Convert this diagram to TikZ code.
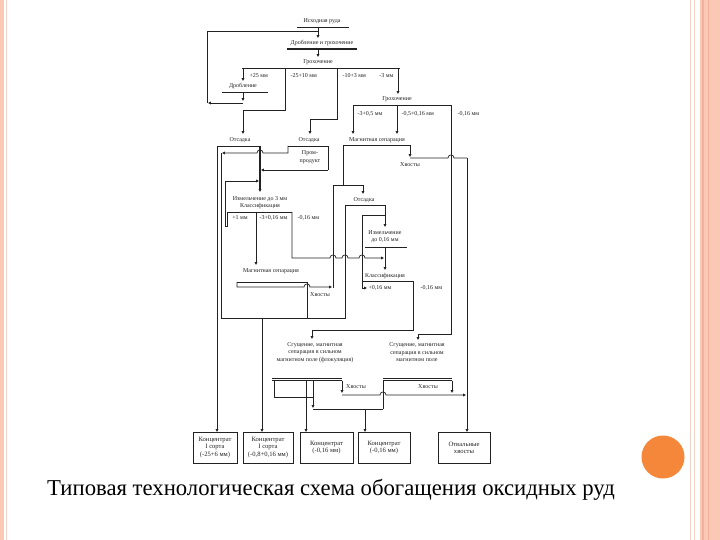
\documentclass[tikz,border=0pt]{standalone}
\usepackage{fontspec}
\setmainfont{Liberation Serif}
\usetikzlibrary{arrows.meta}
\definecolor{salmon}{HTML}{FBC8B6}
\definecolor{salmonD}{HTML}{F2B39E}
\definecolor{salmonL}{HTML}{F4D4C6}
\definecolor{orng}{HTML}{F5873A}
\definecolor{ink}{HTML}{222222}
\tikzset{
  lbl/.style={font=\fontsize{6}{7.5}\selectfont, inner sep=0.3pt, text=ink, align=center},
  ln/.style={draw=ink, line width=0.7pt},
  arr/.style={ln, -{Triangle[length=2.8pt,width=2.6pt]}},
  bar/.style={draw=ink, line width=1.4pt},
  outbox/.style={draw=ink, line width=0.7pt, minimum height=31pt, inner sep=0pt, text=ink,
    font=\fontsize{6.6}{7.3}\selectfont, align=center}
}
\begin{document}
\begin{tikzpicture}[x=1pt,y=-1pt]
\useasboundingbox (0,0) rectangle (720,540);
\fill[white] (0,0) rectangle (720,540);
% slide decoration
\fill[salmon] (700,0) rectangle (720,540);
\draw[salmonD, line width=1.5pt] (703,0)--(703,540);
\draw[salmonD, line width=1pt] (708,0)--(708,540);
\draw[salmonL, line width=1.2pt] (690.5,0)--(690.5,540);
\draw[salmonL, line width=0.8pt] (694.5,0)--(694.5,540);
\fill[salmon] (0,0) rectangle (3.5,540);
\draw[salmonL, line width=1pt] (6,0)--(6,540);
\fill[orng] (663,457) circle[radius=21.5pt];
\node[font=\fontsize{22.7}{26}\selectfont, anchor=base, inner sep=0pt] (cap) at (331,495) {Типовая технологическая схема обогащения оксидных руд};

% ---- top
\node[lbl] (t1) at (322,21) {Исходная руда};
\draw[ln] (297,27.5)--(349,27.5);
\draw[arr] (318,27.5)--(318,38);
\draw[ln] (318,31)--(207,31)--(207,103);
\node[lbl] (t2) at (322,43) {Дробление и грохочение};
\draw[bar] (287,49)--(357,49);
\draw[arr] (318,49)--(318,57);
\node[lbl] (t3) at (318,62) {Грохочение};
\draw[ln] (242,68)--(400,68);
\draw[arr] (243,68)--(243,81);
\node[lbl,anchor=west] (l1) at (249,76) {+25 мм};
\node[lbl] (t4) at (243,86) {Дробление};
\draw[ln] (222,92.5)--(268,92.5);
\draw[arr] (243,92.5)--(243,101);
\draw[arr] (243,103)--(208,103);
\draw[ln] (285,68)--(285,110)--(243,110);
\draw[arr] (243,110)--(243,134);
\node[lbl,anchor=west] (l2) at (290,76) {-25+10 мм};
\draw[ln] (337,68)--(337,119)--(310,119);
\draw[arr] (310,119)--(310,134);
\node[lbl,anchor=west] (l3) at (342,76) {-10+3 мм};
\draw[arr] (398,68)--(398,94);
\node[lbl,anchor=east] (l4) at (394,76) {-3 мм};
\node[lbl] (t5) at (397,99.5) {Грохочение};
\draw[ln] (353,105)--(451,105);
\draw[arr] (353,105)--(353,134);
\node[lbl,anchor=west] (l5) at (357,114) {-3+0,5 мм};
\draw[arr] (397,105)--(397,134);
\node[lbl,anchor=west] (l6) at (401,114) {-0,5+0,16 мм};
\node[lbl,anchor=west] (l7) at (457,114) {-0,16 мм};
\draw[ln] (451,105)--(451,334)--(418,334);
\draw[arr] (418,334)--(418,340);

% ---- second row
\node[lbl] (t6) at (240,140.5) {Отсадка};
\node[lbl] (t7) at (309,140.5) {Отсадка};
\node[lbl] (t8) at (377,140.5) {Магнитная сепарация};
\draw[ln] (217,146)--(260,146);
\draw[arr] (217,146)--(217,432);
\draw[arr, line width=1.2pt] (260,146)--(260,192);
\draw[ln] (288,146)--(328,146);
\draw[arr] (288,146)--(288,153)--(263,153) .. controls (263,149) and (257,149) .. (257,153) -- (222,153);
\node[lbl] (t9) at (310,157) {Пром-\\продукт};
\draw[ln] (328,146)--(328,170);
\draw[arr] (328,170)--(261,170);
\draw[ln] (343,145)--(410,145);
\draw[arr] (410,145)--(410,157);
\node[lbl] (t10) at (410,165) {Хвосты};
\draw[ln] (410,158)--(448,158) .. controls (448,154) and (454,154) .. (454,158) -- (467,158);
\draw[arr] (467,158)--(467,432);
\draw[ln] (343,145)--(343,185);
\draw[ln] (333,288)--(333,185)--(363,185);
\draw[arr] (363,185)--(363,194);

% ---- left frame
\draw[ln] (221,153)--(221,318)--(345,318)--(345,205)--(385,205);
\draw[arr] (385,205)--(385,227);
\node[lbl] (t12) at (364,200) {Отсадка};
\draw[arr] (262,318)--(262,432);

% ---- grinding to 3 mm
\node[lbl] (t11) at (260,202.5) {Измельчение до 3 мм\\Классификация};
\draw[ln] (227,212)--(292,212);
\draw[arr] (227,212)--(227,226)--(225,226)--(225,181)--(259,181);
\node[lbl] (l8) at (240,218) {+1 мм};
\draw[arr] (256,212)--(256,265);
\node[lbl,anchor=west] (l9) at (259,218) {-3+0,16 мм};
\node[lbl,anchor=west] (l10) at (297,218) {-0,16 мм};
\draw[arr] (292,212)--(292,258)--(330,258) .. controls (330,254) and (336,254) .. (336,258)
  --(342,258) .. controls (342,254) and (348,254) .. (348,258)
  --(359,258) .. controls (359,254) and (365,254) .. (365,258) --(384,258);

% ---- magnetic separation 2
\node[lbl] (t14) at (271,271) {Магнитная сепарация};
\draw[ln] (237,282)--(307,282);
\draw[arr] (237,282)--(237,287)--(304,287) .. controls (304,283) and (310,283) .. (310,287) --(332,287);
\draw[ln] (307,282)--(307,318);
\node[lbl] (t15) at (320,295) {Хвосты};

% ---- grinding to 0.16 mm
\node[lbl] (t13) at (385,236.5) {Измельчение\\до 0,16 мм};
\draw[ln] (365,247)--(407,247);
\draw[arr] (385,247)--(385,270);
\node[lbl] (t16) at (385,276) {Классификация};
\draw[ln] (362,281)--(413,281);
\draw[ln] (362,288)--(362,215)--(385,215);
\draw[arr] (362,281)--(362,288)--(367,288);
\node[lbl,anchor=west] (l11) at (368,288) {+0,16 мм};
\node[lbl,anchor=west] (l12) at (420,288) {-0,16 мм};
\draw[ln] (413,281)--(413,330)--(312,330);
\draw[arr] (312,330)--(312,339);

% ---- thickening
\node[lbl] (t17) at (315,352.5) {Сгущение, магнитная\\сепарация в сильном\\магнитном поле (флокуляция)};
\node[lbl] (t18) at (417,352.5) {Сгущение, магнитная\\сепарация в сильном\\магнитном поле};
\draw[ln] (272,378)--(342,378);
\draw[ln] (272,380.5)--(342,380.5);
\draw[ln] (383,378)--(452,378);
\draw[ln] (383,380.5)--(452,380.5);
\draw[ln] (274,380.5)--(274,397)--(313,397);
\draw[arr] (306,380.5)--(306,432);
\draw[arr] (313,380.5)--(313,408);
\draw[ln] (313,409)--(383,409);
\draw[arr] (365,409)--(365,432);
\draw[ln] (383,380.5)--(383,409);
\draw[arr] (342,380.5)--(342,393);
\node[lbl] (t19) at (356,387) {Хвосты};
\draw[arr] (452,380.5)--(452,393);
\node[lbl] (t20) at (428,387) {Хвосты};
\draw[arr] (342,395)--(380,395) .. controls (380,391) and (386,391) .. (386,395) --(466,395);

% ---- products
\node[outbox, minimum width=44pt] (b1) at (215,447.5) {Концентрат\\I сорта\\(-25+6 мм)};
\node[outbox, minimum width=50pt] (b2) at (268,447.5) {Концентрат\\I сорта\\(-0,8+0,16 мм)};
\node[outbox, minimum width=53pt] (b3) at (326.5,447.5) {Концентрат\\(-0,16 мм)};
\node[outbox, minimum width=52pt] (b4) at (384,447.5) {Концентрат\\(-0,16 мм)};
\node[outbox, minimum width=52pt] (b5) at (464,447.5) {Отвальные\\хвосты};
\end{tikzpicture}
\end{document}
